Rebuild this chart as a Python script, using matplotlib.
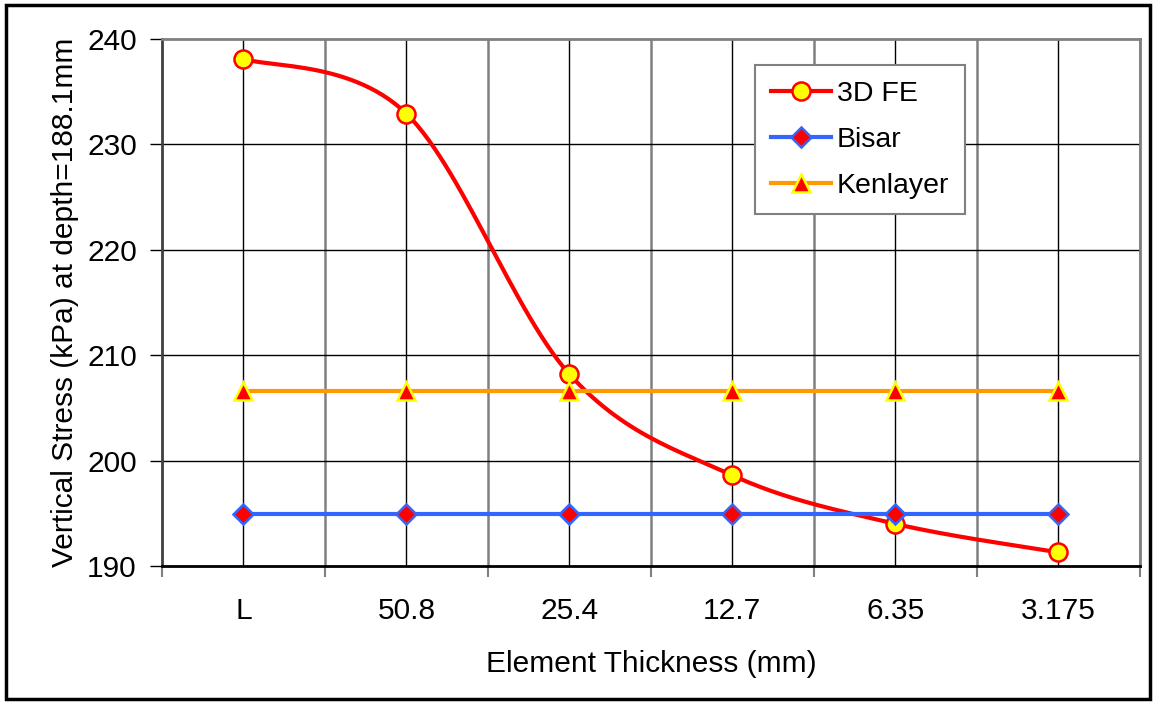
import matplotlib.pyplot as plt
import numpy as np
from matplotlib.patches import Rectangle

plt.rcParams['font.family'] = ['Liberation Sans', 'DejaVu Sans']

categorias = ["L", "50.8", "25.4", "12.7", "6.35", "3.175"]
fe_3d = [238.1, 232.9, 208.2, 198.6, 194.0, 191.3]
bisar = [194.9, 194.9, 194.9, 194.9, 194.9, 194.9]
kenlayer = [206.6, 206.6, 206.6, 206.6, 206.6, 206.6]


def suavizar(xs, ys, n=30):
    # curva suave tipo Catmull-Rom entre los puntos
    xs = np.asarray(xs, float)
    ys = np.asarray(ys, float)
    px = np.concatenate([[xs[0]], xs, [xs[-1]]])
    py = np.concatenate([[ys[0]], ys, [ys[-1]]])
    out_x, out_y = [], []
    for i in range(1, len(px) - 2):
        p0, p1, p2, p3 = (np.array([px[j], py[j]]) for j in (i - 1, i, i + 1, i + 2))
        c1 = p1 + (p2 - p0) / 6
        c2 = p2 - (p3 - p1) / 6
        t = np.linspace(0, 1, n)[:, None]
        b = (1 - t)**3 * p1 + 3 * (1 - t)**2 * t * c1 + 3 * (1 - t) * t**2 * c2 + t**3 * p2
        out_x.extend(b[:, 0])
        out_y.extend(b[:, 1])
    return out_x, out_y


fig = plt.figure(figsize=(11.56, 7.04), dpi=100)
ax = fig.add_axes([0.140, 0.196, 0.846, 0.749])

x = np.arange(len(categorias))

# rejilla: líneas en cada categoría y en los límites entre ellas
for xi in x:
    ax.axvline(xi, color="black", lw=1, zorder=1)
for xb in np.arange(-0.5, len(categorias), 1.0)[1:]:
    ax.axvline(xb, color="#808080", lw=1.8, zorder=1)
for yv in range(200, 240, 10):
    ax.axhline(yv, color="black", lw=1, zorder=1)

sx, sy = suavizar(x, fe_3d)
ax.plot(sx, sy, color="#FF0000", lw=3, zorder=3)
ax.plot(x, fe_3d, ls="none", marker="o", ms=13, mfc="#FFFF00", mec="#FF0000", mew=1.8, zorder=4)
ax.plot([], [], color="#FF0000", lw=3, marker="o", ms=13, mfc="#FFFF00", mec="#FF0000", mew=1.8, label="3D FE")

ax.plot(x, bisar, color="#3366FF", lw=3, marker="D", ms=10, mfc="#FF0000", mec="#3366FF", mew=1.8,
        zorder=5, label="Bisar")
ax.plot(x, kenlayer, color="#FF9900", lw=3, marker="^", ms=13, mfc="#FF0000", mec="#FFFF00", mew=1.8,
        zorder=5, label="Kenlayer")

ax.set_xlim(-0.5, len(categorias) - 0.5)
ax.set_ylim(190, 240)
ax.set_yticks(range(190, 241, 10))
ax.set_xticks(x)
ax.set_xticklabels(categorias)
ax.set_xticks(np.arange(-0.5, len(categorias), 1.0), minor=True)
ax.tick_params(axis="x", which="major", length=0, pad=22, labelsize=21.5)
ax.tick_params(axis="x", which="minor", length=8, width=1.5, color="#808080", direction="out")
ax.tick_params(axis="y", length=9, width=1, direction="out", labelsize=21.5, pad=9)

ax.set_xlabel("Element Thickness (mm)", fontsize=21.5, labelpad=18)
ax.set_ylabel("Vertical Stress (kPa) at depth=188.1mm", fontsize=21.5, labelpad=6)

for lado in ("top", "right"):
    ax.spines[lado].set_color("#808080")
    ax.spines[lado].set_linewidth(2)
ax.spines["left"].set_color("#404040")
ax.spines["left"].set_linewidth(2)
ax.spines["bottom"].set_color("black")
ax.spines["bottom"].set_linewidth(2)

leg = ax.legend(loc="upper left", bbox_to_anchor=(0.607, 0.95), fontsize=20.5, fancybox=False,
                edgecolor="#808080", framealpha=1, borderaxespad=0, handlelength=2.1,
                labelspacing=0.7, borderpad=0.55, handletextpad=0.2)
leg.get_frame().set_linewidth(1.5)

fig.patches.append(Rectangle((0.005, 0.007), 0.99, 0.986, transform=fig.transFigure,
                             fill=False, edgecolor="black", lw=2.5))

fig.savefig("out.png", dpi=100)
